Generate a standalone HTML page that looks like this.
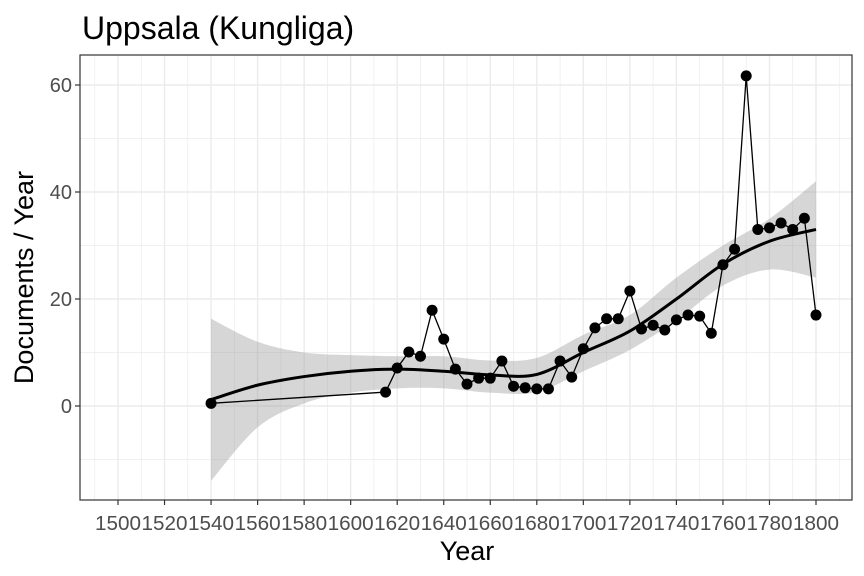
<!DOCTYPE html>
<html><head><meta charset="utf-8"><style>body{margin:0;background:#fff}svg{display:block;font-family:"Liberation Sans",sans-serif}</style></head>
<body>
<svg id="c" width="864" height="576"></svg>
<script>
const years=[1540,1615,1620,1625,1630,1635,1640,1645,1650,1655,1660,1665,1670,1675,1680,1685,1690,1695,1700,1705,1710,1715,1720,1725,1730,1735,1740,1745,1750,1755,1760,1765,1770,1775,1780,1785,1790,1795,1800];
const docs=[0.5,2.6,7.1,10.1,9.3,17.9,12.5,6.9,4.1,5.2,5.2,8.4,3.7,3.4,3.2,3.2,8.4,5.4,10.7,14.6,16.3,16.3,21.5,14.4,15.1,14.2,16.1,17,16.8,13.6,26.4,29.3,61.7,33,33.3,34.2,33,35.1,17];
const smoothX=[1540,1560,1580,1600,1620,1640,1660,1680,1700,1720,1740,1760,1780,1800];
const smoothY=[1.2,3.9,5.5,6.5,6.9,6.5,5.8,5.9,10,14,20,26.5,30.8,33];
const upperY=[16.3,12,10,9.5,9.3,9.3,8.5,9,13.3,17,24,30,35,42];
const lowerY=[-14,-4,0.5,2.5,3.3,3.3,2.5,2.6,6.5,10.5,16,22.5,25.5,24];
const xTicks=[1500,1520,1540,1560,1580,1600,1620,1640,1660,1680,1700,1720,1740,1760,1780,1800];
const yTicks=[0,20,40,60];
const L=80,R=852,T=55,B=500;
const x=v=>118+(v-1500)*698/300;
const y=v=>406-v*5.35;
const NS="http://www.w3.org/2000/svg";
const svg=document.getElementById('c');
function mk(t,a,p){const e=document.createElementNS(NS,t);for(const k in a)e.setAttribute(k,a[k]);(p||svg).appendChild(e);return e;}
function curve(px,py){let d='M'+px[0]+','+py[0];for(let i=0;i<px.length-1;i++){const p0=i?i-1:i,p3=i+2<px.length?i+2:i+1;const c1x=px[i]+(px[i+1]-px[p0])/6,c1y=py[i]+(py[i+1]-py[p0])/6,c2x=px[i+1]-(px[p3]-px[i])/6,c2y=py[i+1]-(py[p3]-py[i])/6;d+=`C${c1x},${c1y} ${c2x},${c2y} ${px[i+1]},${py[i+1]}`;}return d;}
for(let v=-10;v<=60;v+=20){const g=mk('line',{x1:L,x2:R,y1:y(v),y2:y(v),stroke:'#ebebeb','stroke-width':0.7});}
for(let v=1490;v<=1810;v+=20){const g=mk('line',{x1:x(v),x2:x(v),y1:T,y2:B,stroke:'#ebebeb','stroke-width':0.7});}
yTicks.forEach(v=>{const g=mk('line',{x1:L,x2:R,y1:y(v),y2:y(v),stroke:'#ebebeb','stroke-width':1.4});
const t=mk('text',{x:L-8,y:y(v)+7,'text-anchor':'end','font-size':20,fill:'#4d4d4d'});t.textContent=v;
mk('line',{x1:L-5,x2:L,y1:y(v),y2:y(v),stroke:'#333','stroke-width':1.2});});
xTicks.forEach(v=>{const g=mk('line',{x1:x(v),x2:x(v),y1:T,y2:B,stroke:'#ebebeb','stroke-width':1.4});
const t=mk('text',{x:x(v),y:530,'text-anchor':'middle','font-size':20,fill:'#4d4d4d',textLength:46,lengthAdjust:'spacingAndGlyphs'});t.textContent=v;
mk('line',{x1:x(v),x2:x(v),y1:B,y2:B+5,stroke:'#333','stroke-width':1.2});});
const sx=smoothX.map(x);
const up=curve(sx,upperY.map(y));
const lo=curve(sx.slice().reverse(),lowerY.map(y).reverse());
const rib=mk('path',{d:up+'L'+lo.slice(1)+'Z',fill:'#999',opacity:0.4});

const ln=mk('polyline',{points:years.map((v,i)=>x(v)+','+y(docs[i])).join(' '),fill:'none',stroke:'#000','stroke-width':1.3});

const sm=mk('path',{d:curve(sx,smoothY.map(y)),fill:'none',stroke:'#000','stroke-width':3});

years.forEach((v,i)=>{const c=mk('circle',{cx:x(v),cy:y(docs[i]),r:5.5,fill:'#000'});});
const fr=mk('rect',{x:L,y:T,width:R-L,height:B-T,fill:'none',stroke:'#333','stroke-width':1.2});

const tt=mk('text',{x:82,y:39,'font-size':32,fill:'#000'});tt.textContent='Uppsala (Kungliga)';
const xt=mk('text',{x:(L+R)/2+1,y:560,'text-anchor':'middle','font-size':27,fill:'#000'});xt.textContent='Year';
const yt=mk('text',{x:0,y:0,'text-anchor':'middle','font-size':27,fill:'#000',transform:`translate(33,${(T+B)/2}) rotate(-90)`});yt.textContent='Documents / Year';
</script>
</body></html>
